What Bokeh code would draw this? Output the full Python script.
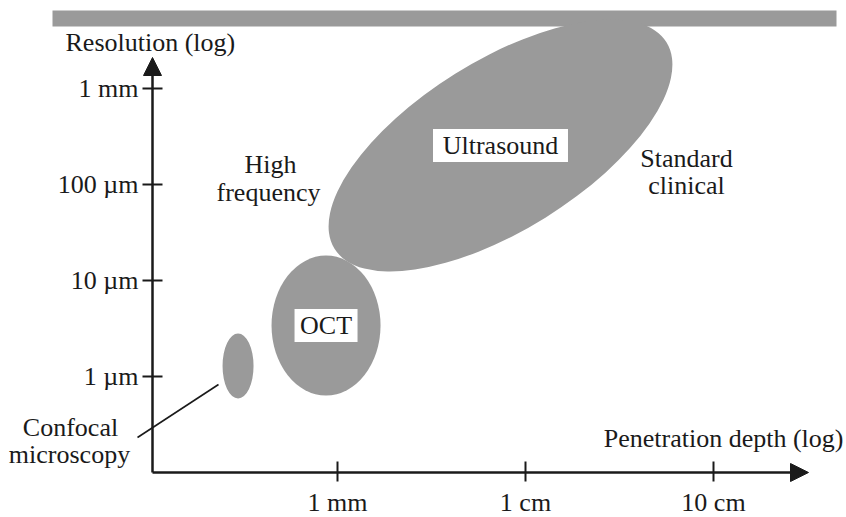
import math
from bokeh.plotting import figure
from bokeh.models import Range1d, Arrow, NormalHead
from bokeh.core.properties import value
from bokeh.embed import file_html
from bokeh.resources import INLINE

# ---------------- data (log10 units) ----------------
# penetration depth: log10(depth / 1 mm); resolution: log10(resolution / 1 µm)
depth_ticks = [0, 1, 2]
depth_labels = ["1 mm", "1 cm", "10 cm"]
res_ticks = [0, 1, 2, 3]
res_labels = ["1 \u00b5m", "10 \u00b5m", "100 \u00b5m", "1 mm"]

mod_names = ["Confocal microscopy", "OCT", "Ultrasound"]
mod_depth = [-0.529, -0.061, 0.867]     # centre, log10 depth (mm)
mod_res = [0.109, 0.531, 2.406]         # centre, log10 resolution (µm)
mod_w = [31, 109, 391]                  # ellipse extent, screen px
mod_h = [65, 140, 170]
mod_angle_deg = [0, 0, 31.9]

# ---------------- layout ----------------
PAGE = 0                   # page offset of the canvas
W, H = 846, 517
OX, OY = 337, 376          # page pixel of (1 mm, 1 µm)
SX, SY = 188, 96           # pixels per decade


def X(ix):
    return (ix - OX) / SX


def Y(iy):
    return (OY - iy) / SY


GRAY = "#9a9a9a"
INK = "#1a1a1a"
FONT = value("Liberation Serif")
FS = "26px"

p = figure(width=W, height=H, output_backend="svg", toolbar_location=None,
           x_range=Range1d(X(PAGE), X(PAGE + W)), y_range=Range1d(Y(PAGE + H), Y(PAGE)),
           x_axis_location=None, y_axis_location=None, min_border=0,
           outline_line_color=None, background_fill_color="white")
p.xgrid.visible = False
p.ygrid.visible = False

# top gray band
p.quad(left=[X(52)], right=[X(836)], top=[Y(10)], bottom=[Y(26)],
       fill_color=GRAY, line_color=None)

# modality ellipses
p.ellipse(x=mod_depth, y=mod_res, width=mod_w, height=mod_h,
          width_units="screen", height_units="screen",
          angle=[math.radians(a) for a in mod_angle_deg],
          fill_color=GRAY, line_color=None)

# axes with arrow heads
ax_x = X(152)
ax_y = Y(472)
p.add_layout(Arrow(end=NormalHead(size=18, fill_color=INK, line_color=INK),
                   x_start=ax_x, y_start=ax_y, x_end=ax_x, y_end=Y(57),
                   line_color=INK, line_width=2.5))
p.add_layout(Arrow(end=NormalHead(size=18, fill_color=INK, line_color=INK),
                   x_start=ax_x, y_start=ax_y, x_end=X(808), y_end=ax_y,
                   line_color=INK, line_width=2.5))

# ticks
p.segment(x0=[X(142)] * len(res_ticks), x1=[X(162)] * len(res_ticks),
          y0=res_ticks, y1=res_ticks, line_color=INK, line_width=2)
p.segment(x0=depth_ticks, x1=depth_ticks,
          y0=[Y(461)] * len(depth_ticks), y1=[Y(481)] * len(depth_ticks),
          line_color=INK, line_width=2)

# tick labels
p.text(x=[X(138)] * len(res_ticks), y=res_ticks, text=res_labels,
       text_align="right", text_baseline="middle", text_font=FONT,
       text_font_size=FS, text_color=INK)
p.text(x=depth_ticks, y=[Y(502)] * len(depth_ticks), text=depth_labels,
       text_align="center", text_baseline="middle", text_font=FONT,
       text_font_size=FS, text_color=INK)

# axis titles
p.text(x=[X(65)], y=[Y(41.5)], text=["Resolution (log)"], text_align="left",
       text_baseline="middle", text_font=FONT, text_font_size=FS, text_color=INK)
p.text(x=[X(843)], y=[Y(437.5)], text=["Penetration depth (log)"], text_align="right",
       text_baseline="middle", text_font=FONT, text_font_size=FS, text_color=INK)

# boxed labels inside OCT and Ultrasound
p.rect(x=mod_depth[1:], y=mod_res[1:], width=[63, 135], height=[33, 33],
       width_units="screen", height_units="screen",
       fill_color="white", line_color=None)
p.text(x=mod_depth[1:], y=mod_res[1:], text=mod_names[1:], text_align="center",
       text_baseline="middle", text_font=FONT, text_font_size=FS, text_color=INK)

# free labels
p.text(x=[X(270), X(268), X(686), X(686), X(70), X(69)],
       y=[Y(163.5), Y(191.5), Y(157.5), Y(184.5), Y(426.5), Y(453.5)],
       text=["High", "frequency", "Standard", "clinical", "Confocal", "microscopy"],
       text_align="center", text_baseline="middle", text_font=FONT,
       text_font_size=FS, text_color=INK)

# leader line to the confocal ellipse
p.segment(x0=[X(137)], y0=[Y(437)], x1=[X(218)], y1=[Y(384)],
          line_color=INK, line_width=1.6)

open("out.html", "w").write(file_html(p, INLINE))
